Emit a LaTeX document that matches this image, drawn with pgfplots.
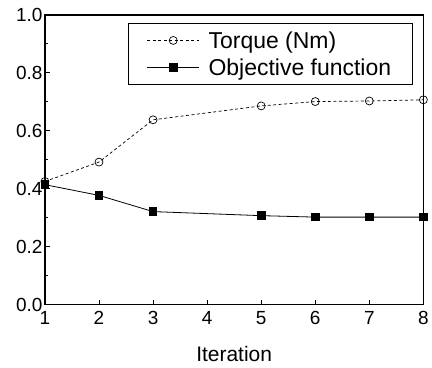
\documentclass[border=0pt]{standalone}
\usepackage{pgfplots}
\pgfplotsset{compat=1.18}
\usepackage{fontspec}
\setmainfont{Liberation Sans}
\begin{document}
\begin{tikzpicture}[font=\fontsize{19}{22}\selectfont]
\begin{axis}[
  name=ax,
  scale only axis,
  width=379pt, height=290pt,
  xmin=1, xmax=8, ymin=0, ymax=1,
  xtick={1,2,3,4,5,6,7,8},
  ytick={0,0.2,0.4,0.6,0.8,1.0},
  minor ytick={0.1,0.3,0.5,0.7,0.9},
  yticklabel style={/pgf/number format/fixed,/pgf/number format/fixed zerofill,/pgf/number format/precision=1, xshift=1pt},
  xticklabel style={yshift=-3pt},
  tick label style={font=\fontsize{19}{22}\selectfont},
  /pgf/number format/assume math mode=true,
  tick align=inside,
  xtick pos=bottom, ytick pos=left,
  major tick length=5pt, minor tick length=3pt,
  axis line style={line width=1.6pt},
  tick style={line width=1pt, black},
  xlabel={Iteration},
  xlabel style={font=\fontsize{21}{24}\selectfont, yshift=-15pt},
  legend style={at={(0.971,0.972)}, anchor=north east, draw=black, line width=0.6pt,
    font=\fontsize{23}{26}\selectfont, inner xsep=19pt, inner ysep=6pt, row sep=5pt,
    /tikz/every odd column/.append style={column sep=7pt}},
  legend cell align=left,
  legend image code/.code={
    \draw[mark repeat=2,mark phase=2,#1] plot coordinates {(0pt,0pt) (26pt,0pt) (52pt,0pt)};
  },
  clip=false,
]
\addplot[black, line width=0.7pt, dash pattern=on 3pt off 2.5pt, mark=o, mark size=4pt, mark options={solid, fill=white, line width=0.7pt}]
 coordinates {(1,0.425) (2,0.492) (3,0.638) (5,0.686) (6,0.701) (7,0.703) (8,0.707)};
\addlegendentry{Torque (Nm)}
\addplot[black, line width=0.8pt, mark=square*, mark size=3.8pt, mark options={solid}]
 coordinates {(1,0.414) (2,0.377) (3,0.321) (5,0.307) (6,0.302) (7,0.302) (8,0.302)};
\addlegendentry{Objective function}
\end{axis}
\path ([xshift=-45pt,yshift=-63pt]ax.south west) rectangle ([xshift=8pt,yshift=15pt]ax.north east);
\end{tikzpicture}
\end{document}
